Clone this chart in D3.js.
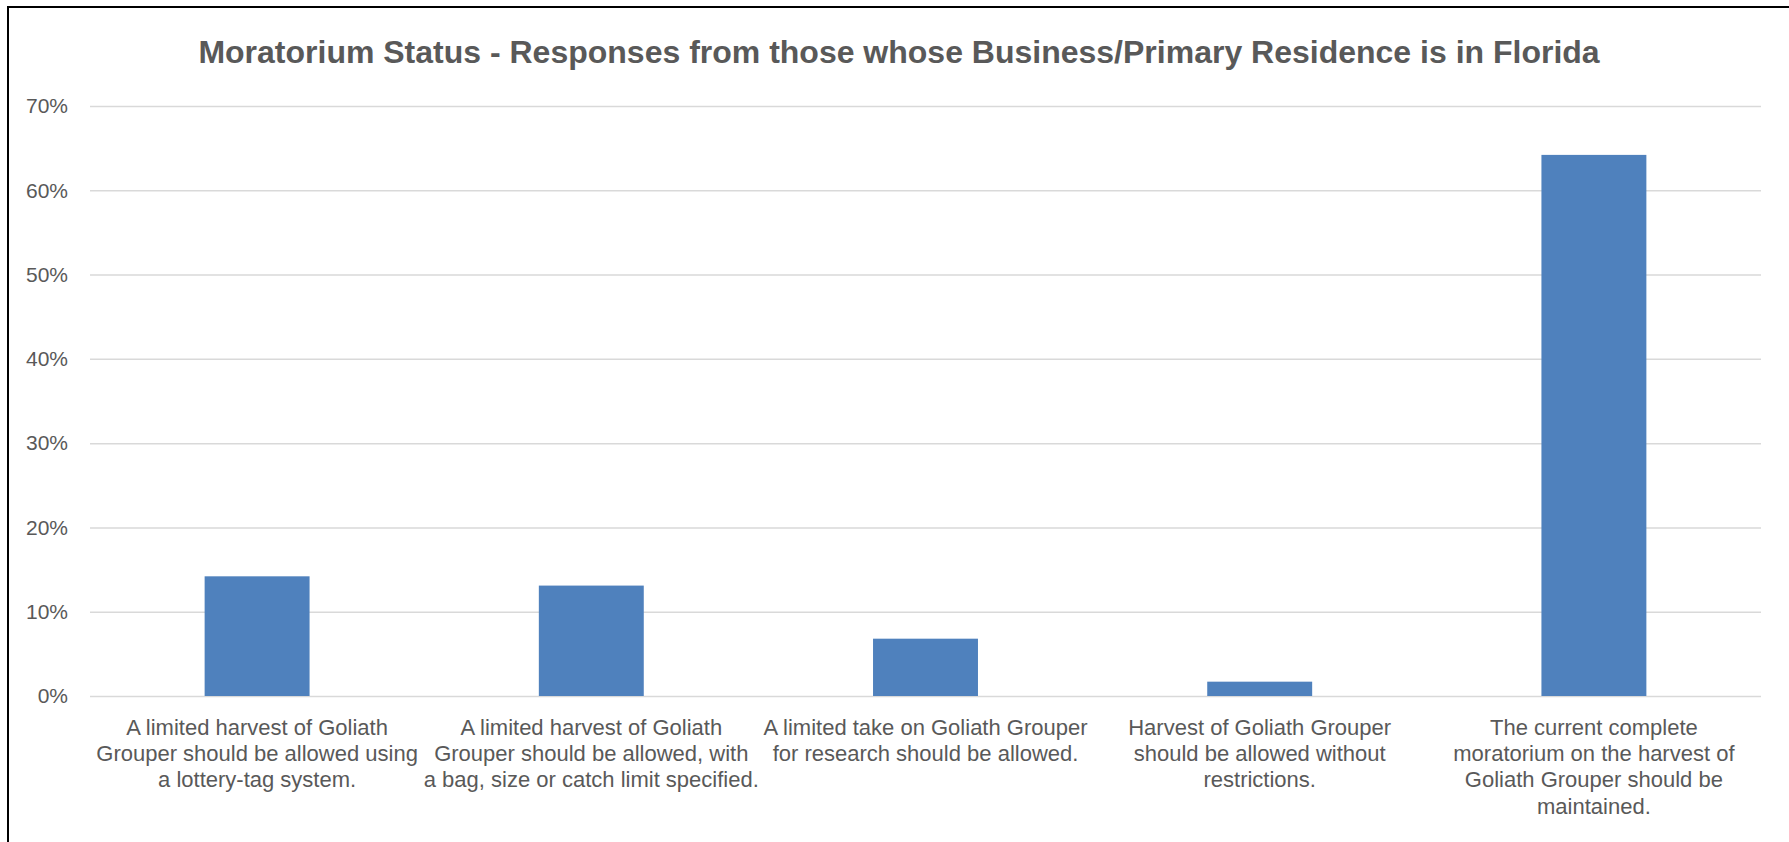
<!DOCTYPE html>
<html>
<head>
<meta charset="utf-8">
<script src="https://cdn.jsdelivr.net/npm/d3@7"></script>
<style>
  body { margin: 0; background: #fff; }
  text { font-family: "Liberation Sans Narrow", "Liberation Sans", sans-serif; fill: #595959; }
</style>
</head>
<body>
<div id="chart"></div>
<script>
// data
const categories = [
    'A limited harvest of Goliath Grouper should be allowed using a lottery-tag system.',
    'A limited harvest of Goliath Grouper should be allowed, with a bag, size or catch limit specified.',
    'A limited take on Goliath Grouper for research should be allowed.',
    'Harvest of Goliath Grouper should be allowed without restrictions.',
    'The current complete moratorium on the harvest of Goliath Grouper should be maintained.'
];
// how each label wraps in the original
const labelLines = [
    ['A limited harvest of Goliath', 'Grouper should be allowed using', 'a lottery-tag system.'],
    ['A limited harvest of Goliath', 'Grouper should be allowed, with', 'a bag, size or catch limit specified.'],
    ['A limited take on Goliath Grouper', 'for research should be allowed.'],
    ['Harvest of Goliath Grouper', 'should be allowed without', 'restrictions.'],
    ['The current complete', 'moratorium on the harvest of', 'Goliath Grouper should be', 'maintained.']
];
const percents = [14.2, 13.1, 6.8, 1.7, 64.2];
const yTicks = [0, 10, 20, 30, 40, 50, 60, 70];

const svgWidth = 1789;
const svgHeight = 842;
const plot = { left: 90, right: 1761, top: 106, bottom: 696 };

const svg = d3.select('#chart')
    .append('svg')
    .attr('width', svgWidth)
    .attr('height', svgHeight);

// chart frame (only left/top edges are inside the picture)
svg.append('rect')
    .attr('x', 8)
    .attr('y', 7)
    .attr('width', svgWidth + 20)
    .attr('height', svgHeight + 20)
    .attr('fill', 'none')
    .attr('stroke', '#000')
    .attr('stroke-width', 2);

const x = d3.scaleBand()
    .domain(categories)
    .range([plot.left, plot.right])
    .paddingInner(0.686)
    .paddingOuter(0.343);

const y = d3.scaleLinear()
    .domain([0, 70])
    .range([plot.bottom, plot.top]);

// gridlines + tick labels
const yAxis = svg.append('g')
    .attr('transform', `translate(${plot.left},0)`)
    .call(d3.axisLeft(y)
        .tickValues(yTicks)
        .tickSize(-(plot.right - plot.left))
        .tickPadding(22)
        .tickFormat(d => d + '%'));
yAxis.select('.domain').remove();
yAxis.selectAll('line').attr('stroke', '#d9d9d9').attr('stroke-width', 1.5);
yAxis.selectAll('text')
    .style('font-family', '"Liberation Sans", sans-serif')
    .style('font-size', '21px')
    .attr('fill', '#595959');

// bars
svg.selectAll('rect.bar')
    .data(percents)
    .enter()
    .append('rect')
    .attr('class', 'bar')
    .attr('x', (d, i) => x(categories[i]))
    .attr('y', d => y(d))
    .attr('width', x.bandwidth())
    .attr('height', d => y(0) - y(d))
    .attr('fill', '#4f81bd');

// category labels, wrapped like the original
const labels = svg.selectAll('text.cat')
    .data(labelLines)
    .enter()
    .append('text')
    .attr('class', 'cat')
    .attr('text-anchor', 'middle')
    .style('font-size', '22px');
labels.selectAll('tspan')
    .data((d, i) => d.map(line => ({ line, i })))
    .enter()
    .append('tspan')
    .attr('x', d => x(categories[d.i]) + x.bandwidth() / 2)
    .attr('y', (d, j) => 735 + j * 26.2)
    .text(d => d.line);

// title
svg.append('text')
    .attr('x', 899)
    .attr('y', 63)
    .attr('text-anchor', 'middle')
    .style('font-size', '32px')
    .style('font-weight', 'bold')
    .text('Moratorium Status - Responses from those whose Business/Primary Residence is in Florida');
</script>
</body>
</html>
